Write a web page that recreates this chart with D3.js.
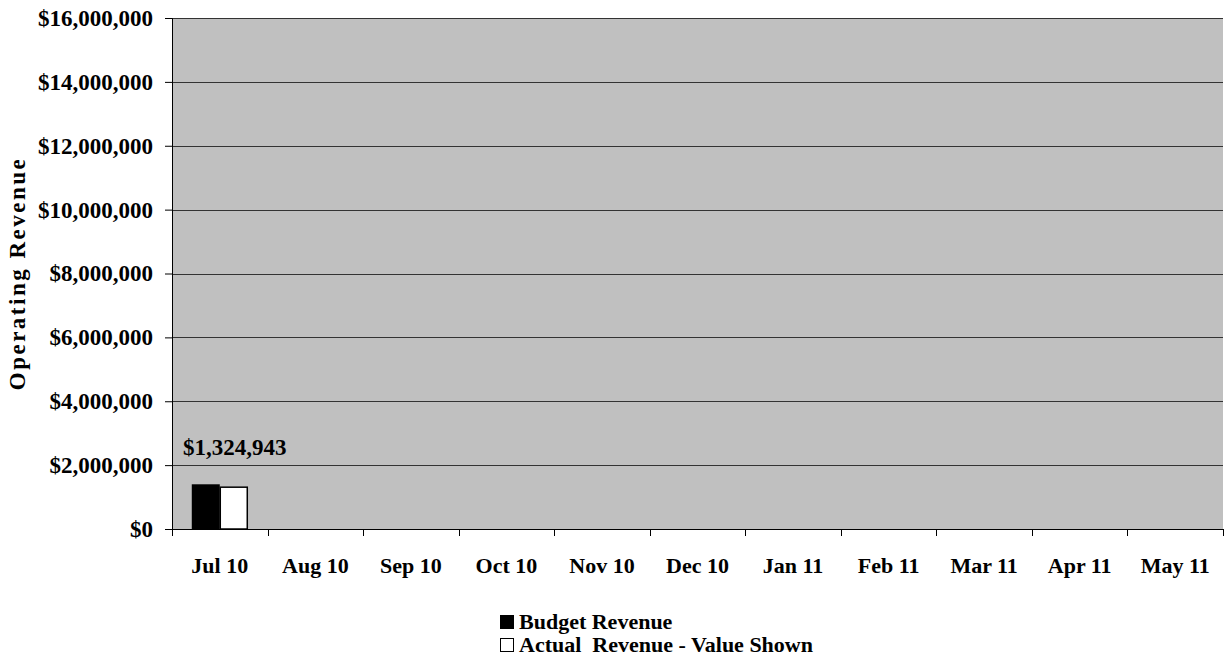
<!DOCTYPE html>
<html>
<head>
<meta charset="utf-8">
<script src="https://cdn.jsdelivr.net/npm/d3@7"></script>
<style>
  body { margin: 0; background: #fff; }
  text { font-family: "Liberation Serif", "Times New Roman", serif; font-weight: bold; fill: #000; }
</style>
</head>
<body>
<div id="chart"></div>
<script>
var months = ["Jul 10", "Aug 10", "Sep 10", "Oct 10", "Nov 10", "Dec 10", "Jan 11", "Feb 11", "Mar 11", "Apr 11", "May 11"];
var budget = [1400000, null, null, null, null, null, null, null, null, null, null];
var actual = [1324943, null, null, null, null, null, null, null, null, null, null];
var yTicks = [0, 2000000, 4000000, 6000000, 8000000, 10000000, 12000000, 14000000, 16000000];
var seriesNames = ["Budget Revenue", "Actual  Revenue - Value Shown"];

var W = 1224, H = 664;
var margin = {top: 18, right: 1, bottom: 135, left: 172};
var width = W - margin.left - margin.right,
    height = H - margin.top - margin.bottom;

var svg = d3.select("#chart").append("svg")
  .attr("width", W)
  .attr("height", H);

var g = svg.append("g")
  .attr("transform", "translate(" + margin.left + "," + margin.top + ")");

var x = d3.scaleBand().domain(months).range([0, width]).padding(0);
var y = d3.scaleLinear().domain([0, 16000000]).range([height, 0]);

// plot background
g.append("rect")
  .attr("width", width).attr("height", height)
  .attr("fill", "#c0c0c0");

// gridlines
g.selectAll(".grid").data(yTicks.slice(1))
  .enter().append("line")
  .attr("class", "grid")
  .attr("x1", 0).attr("x2", width)
  .attr("y1", function(d){ return Math.round(y(d)) + 0.5; })
  .attr("y2", function(d){ return Math.round(y(d)) + 0.5; })
  .attr("stroke", "#333").attr("stroke-width", 1);

// y axis
var yAxis = g.append("g")
  .call(d3.axisLeft(y).tickValues(yTicks).tickSize(7).tickPadding(12)
    .tickFormat(function(d){ return "$" + d3.format(",")(d); }));
yAxis.select(".domain").attr("stroke", "#000");
yAxis.selectAll("line").attr("stroke", "#000");
yAxis.selectAll("text").attr("font-size", "23px").attr("font-family", null);

// x axis
var xAxis = g.append("g")
  .attr("transform", "translate(0," + height + ")")
  .call(d3.axisBottom(x).tickSize(0).tickPadding(28));
xAxis.select(".domain").attr("stroke", "#000");
xAxis.selectAll("text").attr("font-size", "22px").attr("font-family", null);

// tick marks between categories
g.selectAll(".xtick").data(months.concat(["end"]))
  .enter().append("line")
  .attr("class", "xtick")
  .attr("x1", function(d, i){ return Math.round(i * x.step()) + 0.5; })
  .attr("x2", function(d, i){ return Math.round(i * x.step()) + 0.5; })
  .attr("y1", height).attr("y2", height + 7)
  .attr("stroke", "#000");

// bars
var inner = d3.scaleBand().domain([0, 1]).range([0, 56]);
var off = (x.bandwidth() - 56) / 2;

g.selectAll(".budget").data(months.filter(function(d, i){ return budget[i] != null; }))
  .enter().append("rect")
  .attr("class", "budget")
  .attr("x", function(d){ return x(d) + off + inner(0); })
  .attr("width", inner.bandwidth())
  .attr("y", function(d){ return y(budget[months.indexOf(d)]); })
  .attr("height", function(d){ return height - y(budget[months.indexOf(d)]); })
  .attr("fill", "#000");

g.selectAll(".actual").data(months.filter(function(d, i){ return actual[i] != null; }))
  .enter().append("rect")
  .attr("class", "actual")
  .attr("x", function(d){ return x(d) + off + inner(1) + 0.5; })
  .attr("width", inner.bandwidth() - 1)
  .attr("y", function(d){ return y(actual[months.indexOf(d)]) + 0.5; })
  .attr("height", function(d){ return height - y(actual[months.indexOf(d)]) - 0.5; })
  .attr("fill", "#fff").attr("stroke", "#000").attr("stroke-width", 1.5);

// value labels
g.selectAll(".value").data(months.filter(function(d, i){ return actual[i] != null; }))
  .enter().append("text")
  .attr("class", "value")
  .attr("x", function(d){ return x(d) + off + inner(1) + inner.bandwidth() / 2 + 1; })
  .attr("y", function(d){ return y(actual[months.indexOf(d)]) - 32; })
  .attr("text-anchor", "middle")
  .attr("font-size", "23px")
  .text(function(d){ return "$" + d3.format(",")(actual[months.indexOf(d)]); });

// y title
svg.append("text")
  .attr("transform", "translate(25," + (margin.top + height / 2) + ") rotate(-90)")
  .attr("text-anchor", "middle")
  .attr("font-size", "23px")
  .attr("letter-spacing", "2.5px")
  .text("Operating Revenue");

// legend
var legend = svg.append("g").attr("transform", "translate(500,613)");
var items = legend.selectAll(".item").data(seriesNames)
  .enter().append("g")
  .attr("class", "item")
  .attr("transform", function(d, i){ return "translate(0," + (i * 23) + ")"; });
items.append("rect")
  .attr("x", 0.5).attr("y", 2.5).attr("width", 13).attr("height", 13)
  .attr("fill", function(d, i){ return i === 0 ? "#000" : "#fff"; })
  .attr("stroke", "#000");
items.append("text")
  .attr("x", 19).attr("y", 16)
  .attr("font-size", "22px")
  .attr("xml:space", "preserve")
  .style("white-space", "pre")
  .text(function(d){ return d; });
</script>
</body>
</html>
